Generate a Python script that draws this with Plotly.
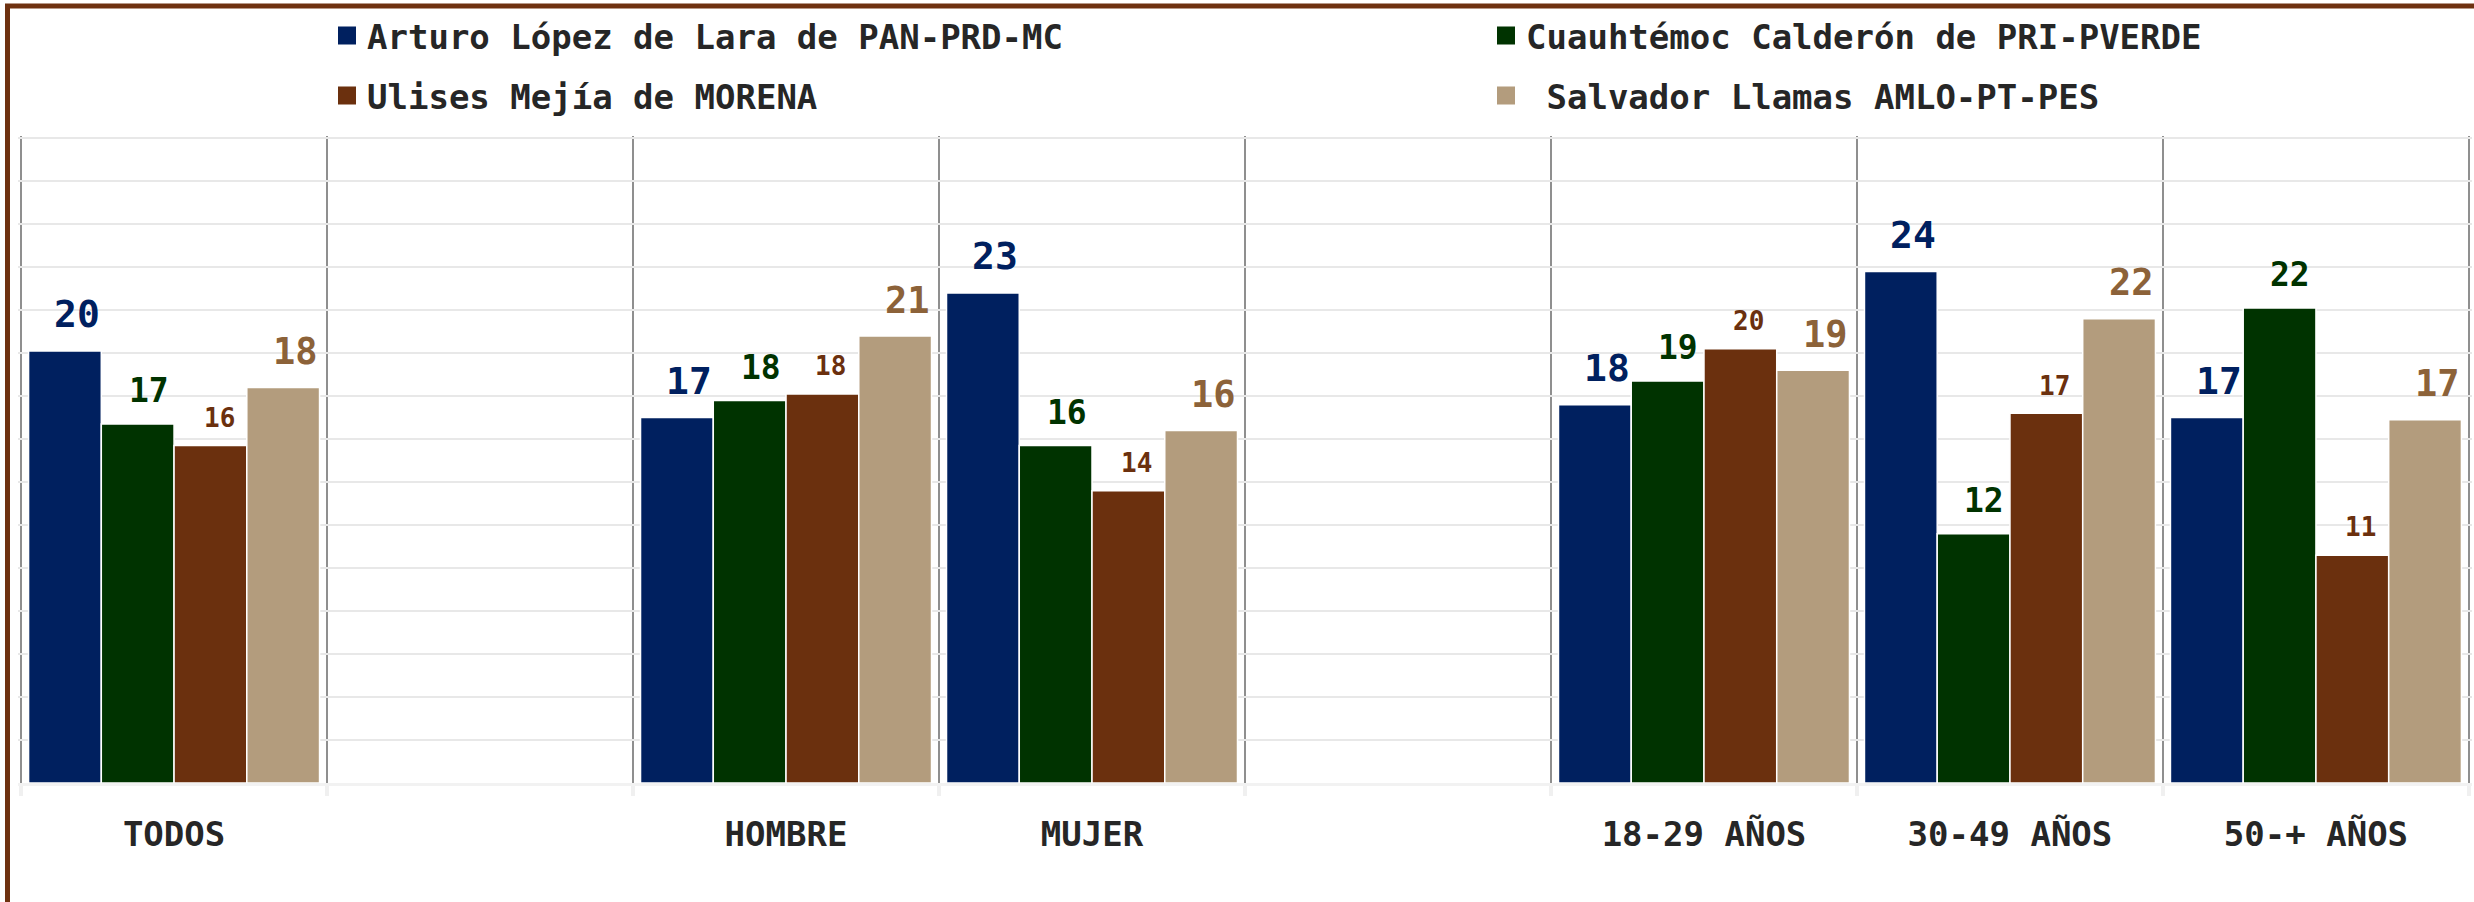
import plotly.graph_objects as go

categories = ["TODOS", " ", "HOMBRE", "MUJER", "  ", "18-29 AÑOS", "30-49 AÑOS", "50-+ AÑOS"]
series_names = [
    "Arturo López de Lara de PAN-PRD-MC",
    "Cuauhtémoc Calderón de PRI-PVERDE",
    "Ulises Mejía de MORENA",
    "\u00a0Salvador Llamas AMLO-PT-PES",
]
arturo = [20.1, None, 17.0, 22.8, None, 17.6, 23.8, 17.0]
cuauhtemoc = [16.7, None, 17.8, 15.7, None, 18.7, 11.6, 22.1]
ulises = [15.7, None, 18.1, 13.6, None, 20.2, 17.2, 10.6]
salvador = [18.4, None, 20.8, 16.4, None, 19.2, 21.6, 16.9]
series_values = [arturo, cuauhtemoc, ulises, salvador]

bar_colors = ["#00205f", "#003300", "#6b300e", "#b39c7d"]
label_colors = ["#00205f", "#003300", "#6b300e", "#8c6239"]
label_sizes = [38, 33, 26, 37]
legend_ids = ["legend", "legend2", "legend3", "legend4"]
# legend item anchor points (pixels from top-left of the page)
legend_px = [(327, 36), (1486, 36), (327, 96), (1486, 96)]

FONT = "DejaVu Sans Mono"
W, H = 2474, 902
ML, MR, MT, MB = 18, 2, 136, 119
PW, PH = W - ML - MR, H - MT - MB
BARGAP = 0.049
XPAD = 0.01
YTOP = 30.1

fig = go.Figure()
for name, vals, col, lg in zip(series_names, series_values, bar_colors, legend_ids):
    fig.add_trace(go.Bar(
        x=categories, y=vals, name=name, legendgroup=name, showlegend=False,
        marker=dict(color=col, line=dict(color="white", width=1.5)),
        hoverinfo="x+y+name",
    ))
    # legend entry (larger square swatch than the default bar swatch)
    fig.add_trace(go.Scatter(
        x=[None], y=[None], mode="markers", name=name, legend=lg, legendgroup=name,
        marker=dict(symbol="square", size=16, color=col, line=dict(color=col, width=2)),
        hoverinfo="skip",
    ))

# value labels above bars
cat_px = PW / (len(categories) + 2 * XPAD)
bar_px = cat_px * (1 - BARGAP) / len(series_values)
annotations = []
for i, (vals, lc, ls) in enumerate(zip(series_values, label_colors, label_sizes)):
    xoff = (i - (len(series_values) - 1) / 2) * bar_px + ls * 0.33
    gap = 8 + 0.38 * ls
    for c, v in zip(categories, vals):
        if v is None:
            continue
        annotations.append(dict(
            x=c, y=v, xref="x", yref="y", text=f"{v:.0f}", showarrow=False,
            xanchor="center", yanchor="bottom", xshift=xoff,
            yshift=gap - 0.236 * ls - 1,
            font=dict(family=FONT, size=ls, color=lc, weight="bold"),
        ))

def px_x(p):
    return (p - ML) / PW

def px_y(p):
    return (H - MB - p) / PH

legend_font = dict(family=FONT, size=34, color="#262626", weight="bold")
legend_layouts = {}
for lid, (lx, ly) in zip(legend_ids, legend_px):
    legend_layouts[lid] = dict(
        orientation="h", xref="container", yref="container",
        x=lx / W, xanchor="left", y=1 - ly / H, yanchor="middle",
        itemwidth=30, font=legend_font, bgcolor="rgba(0,0,0,0)",
        borderwidth=0, itemclick=False, itemdoubleclick=False,
    )

fig.update_layout(
    width=W, height=H, showlegend=True,
    margin=dict(l=ML, r=MR, t=MT, b=MB, pad=0, autoexpand=False),
    paper_bgcolor="white", plot_bgcolor="white",
    barmode="group", bargap=BARGAP, bargroupgap=0,
    font=dict(family=FONT, color="#262626"),
    annotations=annotations,
    shapes=[dict(
        type="rect", xref="paper", yref="paper",
        x0=px_x(7.5), x1=px_x(W + 20), y0=px_y(6), y1=px_y(H + 20),
        line=dict(color="#6e3110", width=5), fillcolor="rgba(0,0,0,0)", layer="above",
    )],
    **legend_layouts,
)
fig.update_xaxes(
    type="category", categoryorder="array", categoryarray=categories,
    range=[-0.5 - XPAD, len(categories) - 0.5 + XPAD],
    tickson="boundaries", showgrid=True, gridcolor="#8f8f8f", gridwidth=2,
    ticks="outside", ticklen=10, tickwidth=4, tickcolor="#f0f0f0",
    showline=True, linecolor="#f2f2f2", linewidth=3,
    tickfont=dict(family=FONT, size=34, color="#262626", weight="bold"),
    ticklabelstandoff=19,
)
fig.update_yaxes(
    range=[0, YTOP], dtick=2, showticklabels=False, showgrid=True,
    gridcolor="#e8e8e8", gridwidth=2, zeroline=False,
)

fig.write_html(
    "out.html",
    config={"displayModeBar": False},
    post_script="document.body.style.margin='0';document.body.style.overflow='hidden';",
)
